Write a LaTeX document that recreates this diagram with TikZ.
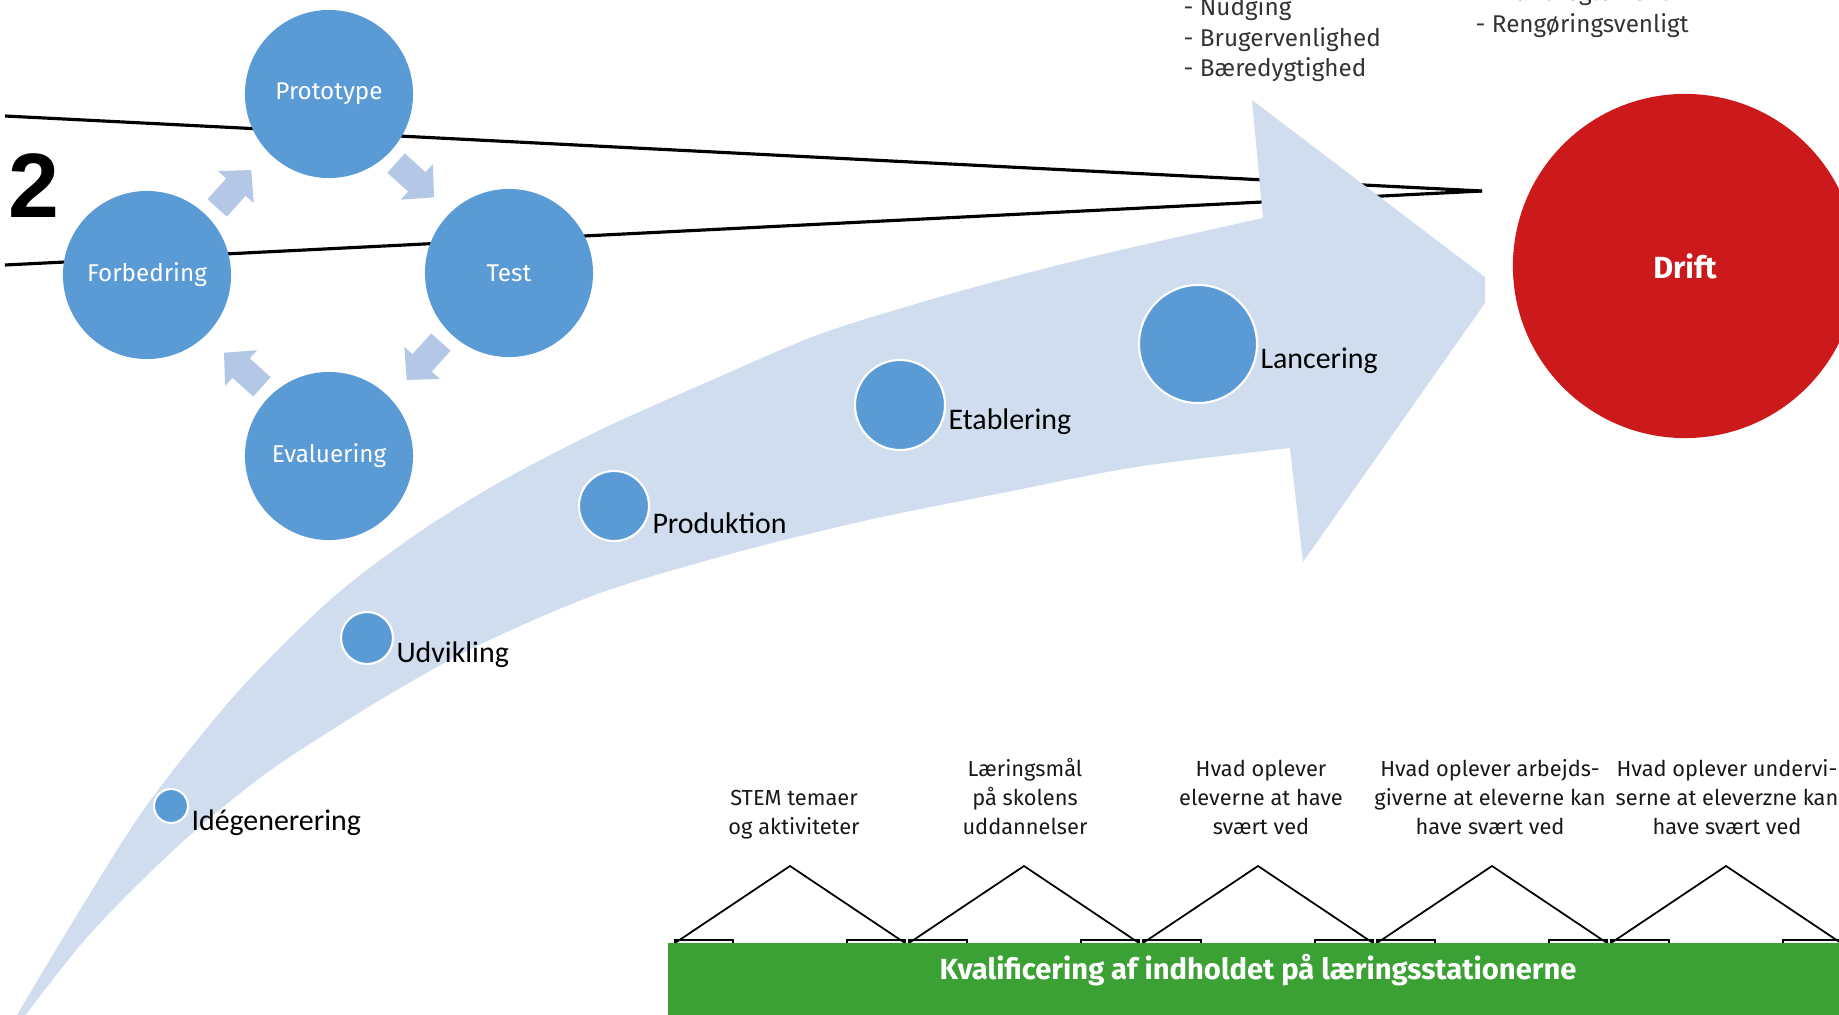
\documentclass[tikz,border=0pt]{standalone}
\usepackage{fontspec}
\setmainfont{Fira Sans}
\newfontfamily\calibrifont{Carlito}
\newfontfamily\arialfont{Liberation Sans}
\usetikzlibrary{positioning}
\definecolor{cycleblue}{HTML}{5B9BD5}
\definecolor{arrowblue}{HTML}{B4C7E7}
\definecolor{bandblue}{HTML}{D0DDEE}
\definecolor{driftred}{HTML}{CC1A1C}
\definecolor{kvalgreen}{HTML}{3CA135}
\tikzset{
  cyclenode/.style={circle, fill=cycleblue, minimum size=1.68cm, inner sep=0pt, text=white, font=\fontsize{6.9}{8}\selectfont},
  stepdot/.style={circle, fill=cycleblue, draw=white, line width=0.6pt, inner sep=0pt},
  steplabel/.style={inner sep=0.5pt, font=\calibrifont\fontsize{8.5}{10}\selectfont},
  listtext/.style={inner sep=0pt, text=black!80, font=\fontsize{6.9}{8}\selectfont},
  houselabel/.style={inner sep=0pt, align=center, text=black!90, font=\fontsize{6.2}{8.2}\selectfont},
  roof/.style={line width=0.5pt}
}

\begin{document}
\begin{tikzpicture}[x=0.01cm, y=-0.01cm]
               \useasboundingbox (0,0) rectangle (1839,1015);
               \clip (0,0) rectangle (1839,1015);
               \coordinate (wedgetip) at (1482,191);
               \coordinate (topend) at (5,116);
               \coordinate (lowend) at (5,265);
               \draw[line width=0.9pt] (topend) -- (wedgetip);
               \draw[line width=0.9pt] (lowend) -- (wedgetip);
               \node[font=\arialfont\bfseries\fontsize{26}{28}\selectfont, inner sep=0pt] (two) at (34,186) {2};
               \fill[bandblue] plot[smooth] coordinates {(11,1025) (80,910) (147,805) (235,695) (330,600) (415,535) (500,482) (600,430) (712,380) (823,333) (957,292) (1091,257) (1263,218)}
                  -- (1252,100) -- (1485,277) -- (1485,303) -- (1303,562)
                  -- plot[smooth] coordinates {(1290,448) (1136,467) (1002,493) (868,520) (734,553) (600,593) (479,645) (380,700) (268,772) (179,845) (89,935) (18,1025)} -- cycle;
               \foreach \a in {138,48,-42,-132}
                  \fill[arrowblue, shift={({329+128*cos(\a)},{275-128*sin(\a)})}, rotate=\a-90]
                     (-25,-13) -- (3,-13) -- (3,-24) -- (26,0) -- (3,24) -- (3,13) -- (-25,13) -- cycle;
               \node[cyclenode] (proto) at (329,94) {Prototype};
               \node[cyclenode] (test) at (509,273) {Test};
               \node[cyclenode] (eval) at (329,456) {Evaluering};
               \node[cyclenode] (forb) at (147,275) {Forbedring};
               \node[stepdot, minimum size=0.34cm] (idea) at (171,806) {};
               \node[steplabel, right=0pt of idea, yshift=-0.17cm] (idealabel) {Idégenerering};
               \node[stepdot, minimum size=0.52cm] (udv) at (367,638) {};
               \node[steplabel, right=0pt of udv, yshift=-0.17cm] (udvlabel) {Udvikling};
               \node[stepdot, minimum size=0.70cm] (prod) at (614,506) {};
               \node[steplabel, right=0pt of prod, yshift=-0.17cm] (prodlabel) {Produktion};
               \node[stepdot, minimum size=0.90cm] (etab) at (900,405) {};
               \node[steplabel, right=0pt of etab, yshift=-0.17cm] (etablabel) {Etablering};
               \node[stepdot, minimum size=1.18cm] (lanc) at (1198,344) {};
               \node[steplabel, right=0pt of lanc, yshift=-0.17cm] (lanclabel) {Lancering};
               \node[circle, fill=driftred, minimum size=3.44cm, text=white, font=\bfseries\fontsize{8.7}{10}\selectfont] (drift) at (1685,266) {Drift};
               \foreach \t [count=\i] in {- Nudging, - Brugervenlighed, - Bæredygtighed}
                  \node[listtext, anchor=base west] (need\i) at (1183,{15+31*(\i-1)}) {\t};
               \node[listtext, anchor=base west] (brand) at (1475,1) {- Brandreglement};
               \node[listtext, anchor=base west] (rengoer) at (1475,32) {- Rengøringsvenligt};
               \foreach \x in {790,1024,1258,1492,1726} {
                  \draw[roof] (\x-115,943) -- (\x,866) -- (\x+115,943);
                  \draw[roof] (\x-115,940) rectangle (\x-57,946);
                  \draw[roof] (\x+57,940) rectangle (\x+115,946);
               }
               \fill[kvalgreen] (668,943) rectangle (1839,1015);
               \node[text=white, font=\bfseries\fontsize{8.3}{10}\selectfont] (kval) at (1258,970) {Kvalificering af indholdet på læringsstationerne};
               \node[houselabel, anchor=base] (stem) at (794,834) {STEM temaer\\og aktiviteter};
               \node[houselabel, anchor=base] (maal) at (1025,834) {Læringsmål\\på skolens\\uddannelser};
               \node[houselabel, anchor=base] (elev) at (1261,834) {Hvad oplever\\eleverne at have\\svært ved};
               \node[houselabel, anchor=base] (arbgiv) at (1490,834) {Hvad oplever arbejds-\\giverne at eleverne kan\\have svært ved};
               \node[houselabel, anchor=base] (laerer) at (1727,834) {Hvad oplever undervi-\\serne at eleverzne kan\\have svært ved};
            \end{tikzpicture}
\end{document}
